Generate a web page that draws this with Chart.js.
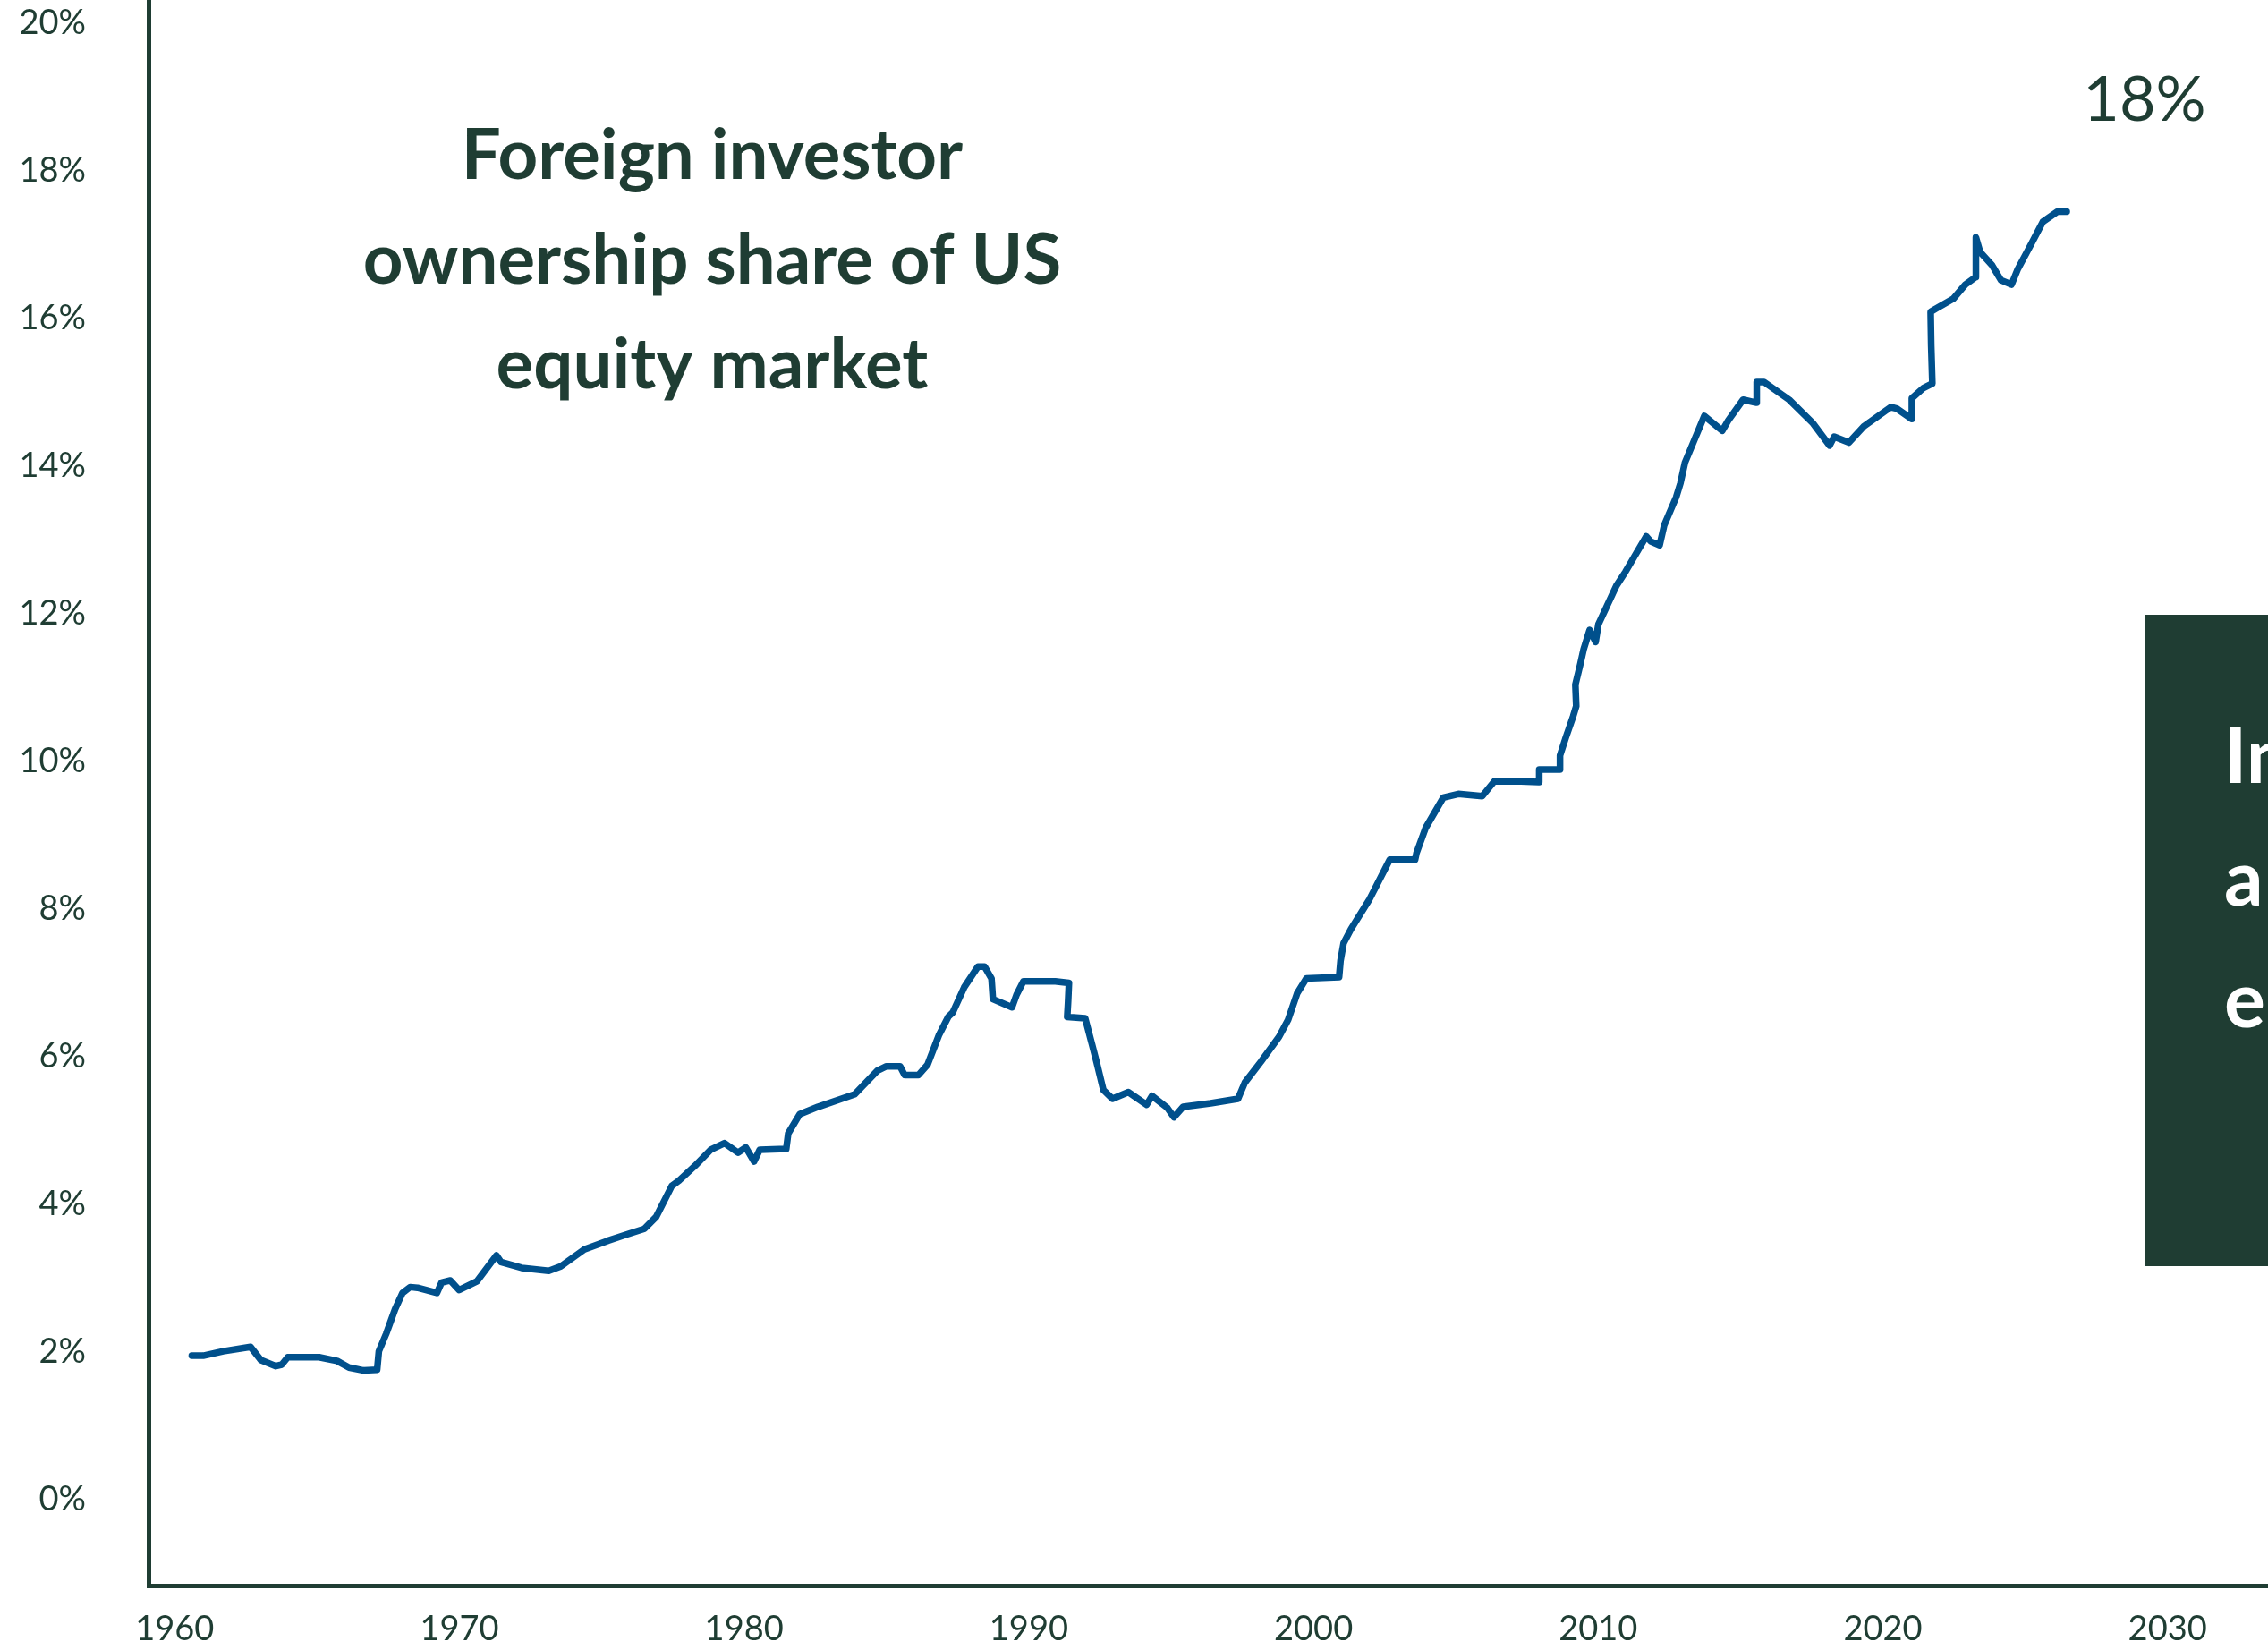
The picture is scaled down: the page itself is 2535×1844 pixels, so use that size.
<!DOCTYPE html>
<html>
<head>
<meta charset="utf-8">
<title>Foreign investor ownership share of US equity market</title>
<script src="https://cdn.jsdelivr.net/npm/chart.js@4.4.1/dist/chart.umd.min.js"></script>
<style>
    html, body { margin: 0; padding: 0; background: #ffffff; }
    #wrap { width: 2535px; height: 1844px; position: relative; }
</style>
</head>
<body>
<div id="wrap"><canvas id="ownershipChart"></canvas></div>
<script>
// Foreign ownership share of US equities, %
var years = [
    1960.60, 1961.00, 1961.70, 1962.66, 1963.03, 1963.55, 1963.76, 1963.97, 1965.07, 1965.70,
    1966.12, 1966.64, 1967.11, 1967.17, 1967.43, 1967.74, 1968.00, 1968.27, 1968.53, 1969.21,
    1969.37, 1969.68, 1969.99, 1970.62, 1971.30, 1971.46, 1972.19, 1973.14, 1973.56, 1974.39,
    1975.23, 1975.86, 1976.50, 1976.91, 1977.46, 1977.71, 1978.27, 1978.83, 1979.31, 1979.79,
    1980.06, 1980.35, 1980.55, 1981.48, 1981.55, 1981.95, 1982.59, 1983.88, 1984.68, 1985.00,
    1985.48, 1985.64, 1986.12, 1986.44, 1986.84, 1987.17, 1987.33, 1987.73, 1988.21, 1988.45,
    1988.69, 1988.74, 1989.41, 1989.57, 1989.81, 1990.93, 1991.41, 1991.38, 1991.35, 1991.98,
    1992.22, 1992.38, 1992.62, 1992.94, 1993.50, 1994.14, 1994.33, 1994.86, 1995.10, 1995.42,
    1996.39, 1997.35, 1997.59, 1998.15, 1998.79, 1999.11, 1999.43, 1999.75, 2000.90, 2000.95,
    2001.06, 2001.32, 2001.95, 2002.68, 2003.57, 2003.62, 2003.94, 2004.56, 2005.09, 2005.93,
    2006.35, 2007.29, 2007.92, 2007.93, 2008.65, 2008.66, 2008.86, 2009.12, 2009.23, 2009.20,
    2009.38, 2009.49, 2009.70, 2009.91, 2010.01, 2010.64, 2010.96, 2011.69, 2011.85, 2012.16,
    2012.32, 2012.74, 2012.89, 2013.05, 2013.73, 2014.36, 2014.57, 2015.09, 2015.56, 2015.57,
    2015.83, 2016.71, 2017.55, 2018.13, 2018.29, 2018.81, 2019.33, 2020.28, 2020.49, 2021.01,
    2021.02, 2021.43, 2021.74, 2021.70, 2021.68, 2021.85, 2022.48, 2022.90, 2023.26, 2023.27,
    2023.42, 2023.84, 2024.15, 2024.52, 2024.73, 2025.20, 2025.62, 2026.14, 2026.46
];
var foreignShare = [
    1.95, 1.95, 2.01, 2.07, 1.89, 1.81, 1.83, 1.93, 1.93, 1.88,
    1.79, 1.75, 1.76, 2.01, 2.25, 2.58, 2.80, 2.88, 2.87, 2.80,
    2.94, 2.97, 2.84, 2.96, 3.31, 3.22, 3.14, 3.10, 3.16, 3.39,
    3.51, 3.59, 3.67, 3.83, 4.25, 4.32, 4.52, 4.74, 4.83, 4.70,
    4.77, 4.58, 4.74, 4.75, 4.96, 5.22, 5.32, 5.49, 5.81, 5.87,
    5.87, 5.75, 5.75, 5.89, 6.29, 6.54, 6.60, 6.94, 7.22, 7.22,
    7.06, 6.78, 6.67, 6.84, 7.02, 7.02, 7.00, 6.74, 6.54, 6.52,
    6.17, 5.93, 5.55, 5.43, 5.52, 5.35, 5.47, 5.31, 5.18, 5.32,
    5.37, 5.43, 5.65, 5.93, 6.27, 6.50, 6.86, 7.06, 7.08, 7.30,
    7.54, 7.73, 8.12, 8.67, 8.67, 8.76, 9.10, 9.51, 9.56, 9.53,
    9.73, 9.73, 9.72, 9.89, 9.89, 10.08, 10.32, 10.61, 10.75, 11.04,
    11.33, 11.52, 11.78, 11.62, 11.86, 12.38, 12.57, 13.05, 12.98, 12.93,
    13.20, 13.58, 13.77, 14.05, 14.68, 14.48, 14.62, 14.90, 14.86, 15.14,
    15.14, 14.90, 14.58, 14.28, 14.40, 14.32, 14.54, 14.80, 14.78, 14.64,
    14.92, 15.06, 15.12, 15.63, 16.09, 16.13, 16.27, 16.46, 16.56, 17.10,
    16.90, 16.72, 16.52, 16.46, 16.66, 17.00, 17.31, 17.45, 17.45
];
var decadeTicks = [1960, 1970, 1980, 1990, 2000, 2010, 2020, 2030];
var percentTicks = [0, 2, 4, 6, 8, 10, 12, 14, 16, 18, 20];
var titleLines = ["Foreign investor", "ownership share of US", "equity market"];
var endLabel = "18%";
var sideBoxLines = ["In", "a", "e"];

var INK = "#1f3d33";
var LINE_BLUE = "#00508c";
var FONT = "Lato, 'Open Sans', sans-serif";

var points = years.map(function (yr, i) {
    return { x: yr, y: foreignShare[i] };
});

// text that sits on top of the plot: title, end value, cropped side box
var annotations = {
    id: "annotations",
    afterDraw: function (chart) {
        var ctx = chart.ctx;
        ctx.save();
        ctx.fillStyle = INK;
        ctx.textAlign = "center";
        ctx.textBaseline = "alphabetic";

        // title, sized so the widest line spans ~778px
        ctx.font = "bold 72px " + FONT;
        var w = ctx.measureText(titleLines[1]).width;
        var size = Math.round(72 * 778 / w);
        ctx.font = "bold " + size + "px " + FONT;
        titleLines.forEach(function (line, i) {
            ctx.fillText(line, 796, 200 + i * 117);
        });

        ctx.font = "80px " + FONT;
        var w2 = ctx.measureText(endLabel).width;
        ctx.font = Math.round(80 * 137 / w2) + "px " + FONT;
        ctx.fillText(endLabel, 2397, 135);

        // dark box running off the right edge
        ctx.fillStyle = INK;
        ctx.fillRect(2397, 687, 200, 728);
        ctx.fillStyle = "#ffffff";
        ctx.textAlign = "left";
        ctx.font = "bold 86px " + FONT;
        sideBoxLines.forEach(function (line, i) {
            ctx.fillText(line, 2486, 875 + i * 136.5);
        });
        ctx.restore();
    },
};

function noEdgePadding(scale) {
    scale.paddingTop = 0;
    scale.paddingBottom = 0;
    scale.paddingLeft = 0;
    scale.paddingRight = 0;
}

var ctx = document.getElementById("ownershipChart");
new Chart(ctx, {
    type: "line",
    data: {
        datasets: [
            {
                label: "Foreign ownership share",
                data: points,
                borderColor: LINE_BLUE,
                borderWidth: 7.5,
                borderJoinStyle: "round",
                borderCapStyle: "round",
                pointRadius: 0,
                tension: 0,
                fill: false,
            },
        ],
    },
    options: {
        responsive: true,
        maintainAspectRatio: false,
        animation: false,
        devicePixelRatio: 1,
        layout: { padding: { top: 2, right: 0, left: 0, bottom: 0 } },
        plugins: {
            legend: { display: false },
            tooltip: { enabled: false },
            title: { display: false },
        },
        scales: {
            x: {
                type: "linear",
                min: 1959.079,
                max: 2033.53,
                grid: { display: false, drawTicks: false, tickLength: 0 },
                border: { display: true, color: INK, width: 5 },
                ticks: {
                    color: INK,
                    font: { family: FONT, size: 38 },
                    padding: 26,
                    maxRotation: 0,
                    autoSkip: false,
                    callback: function (v) { return String(v); },
                },
                afterBuildTicks: function (scale) {
                    scale.ticks = decadeTicks.map(function (v) { return { value: v }; });
                },
                afterFit: function (scale) {
                    scale.height = 72;
                    noEdgePadding(scale);
                },
            },
            y: {
                type: "linear",
                min: -1.164,
                max: 20.291,
                grid: { display: false, drawTicks: false, tickLength: 0 },
                border: { display: true, color: INK, width: 5 },
                ticks: {
                    color: INK,
                    font: { family: FONT, size: 38 },
                    padding: 70,
                    autoSkip: false,
                    callback: function (v) { return v + "%"; },
                },
                afterBuildTicks: function (scale) {
                    scale.ticks = percentTicks.map(function (v) { return { value: v }; });
                },
                afterFit: function (scale) {
                    scale.width = 166;
                    noEdgePadding(scale);
                },
            },
        },
    },
    plugins: [annotations],
});
</script>
</body>
</html>
